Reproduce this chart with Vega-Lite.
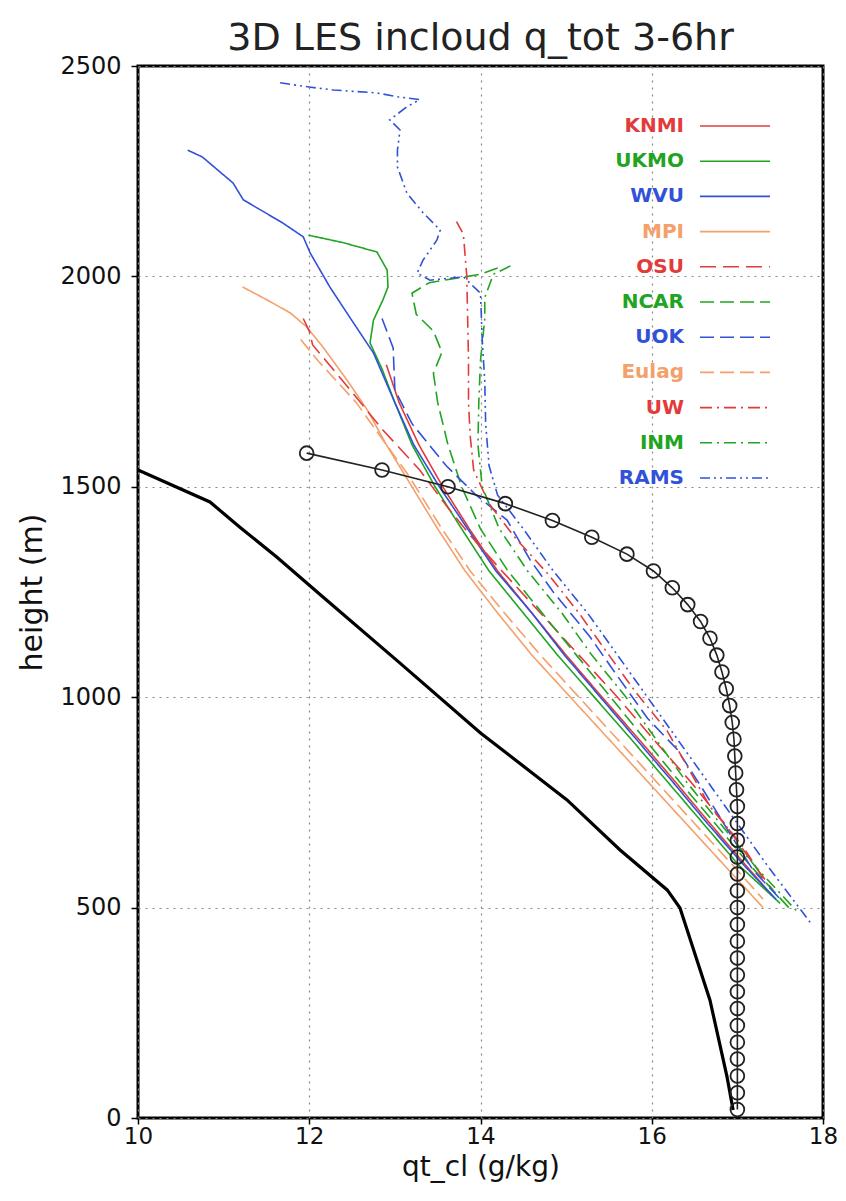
{
  "$schema": "https://vega.github.io/schema/vega-lite/v6.json",
  "width": 685,
  "height": 1052,
  "autosize": {"type": "none"},
  "padding": {"left": 138, "top": 66, "right": 23, "bottom": 83},
  "background": "white",
  "title": {"text": "3D LES incloud q_tot 3-6hr", "fontSize": 38, "font": "DejaVu Sans", "fontWeight": "normal", "color": "#222", "offset": -4, "anchor": "middle"},
  "config": {
    "view": {"stroke": "black", "strokeWidth": 3},
    "axis": {"domain": false, "tickColor": "black", "tickSize": 7, "tickWidth": 1.5, "labelColor": "#111", "labelFont": "DejaVu Sans", "labelFontSize": 24, "titleFont": "DejaVu Sans", "titleFontSize": 30, "titleFontWeight": "normal", "titleColor": "#111", "grid": true, "gridColor": "#888", "gridDash": [2, 5], "gridWidth": 1.2}
  },
  "datasets": {
    "models": [
      {"m": "KNMI", "q": 12.9, "h": 1790}, {"m": "KNMI", "q": 13.05, "h": 1700}, {"m": "KNMI", "q": 13.28, "h": 1600}, {"m": "KNMI", "q": 13.56, "h": 1500}, {"m": "KNMI", "q": 13.87, "h": 1400}, {"m": "KNMI", "q": 14.2, "h": 1300}, {"m": "KNMI", "q": 14.6, "h": 1200}, {"m": "KNMI", "q": 15.0, "h": 1100}, {"m": "KNMI", "q": 15.42, "h": 1000}, {"m": "KNMI", "q": 15.85, "h": 900}, {"m": "KNMI", "q": 16.27, "h": 800}, {"m": "KNMI", "q": 16.68, "h": 700}, {"m": "KNMI", "q": 17.1, "h": 600}, {"m": "KNMI", "q": 17.4, "h": 530},

      {"m": "UKMO", "q": 11.99, "h": 2098}, {"m": "UKMO", "q": 12.4, "h": 2080}, {"m": "UKMO", "q": 12.79, "h": 2058}, {"m": "UKMO", "q": 12.91, "h": 2015}, {"m": "UKMO", "q": 12.92, "h": 1975}, {"m": "UKMO", "q": 12.86, "h": 1944}, {"m": "UKMO", "q": 12.75, "h": 1896}, {"m": "UKMO", "q": 12.71, "h": 1842}, {"m": "UKMO", "q": 12.85, "h": 1780}, {"m": "UKMO", "q": 13.0, "h": 1700}, {"m": "UKMO", "q": 13.2, "h": 1600}, {"m": "UKMO", "q": 13.47, "h": 1500}, {"m": "UKMO", "q": 13.78, "h": 1400}, {"m": "UKMO", "q": 14.1, "h": 1300}, {"m": "UKMO", "q": 14.5, "h": 1200}, {"m": "UKMO", "q": 14.9, "h": 1100}, {"m": "UKMO", "q": 15.33, "h": 1000}, {"m": "UKMO", "q": 15.76, "h": 900}, {"m": "UKMO", "q": 16.18, "h": 800}, {"m": "UKMO", "q": 16.6, "h": 700}, {"m": "UKMO", "q": 17.02, "h": 600}, {"m": "UKMO", "q": 17.5, "h": 510},

      {"m": "WVU", "q": 10.58, "h": 2300}, {"m": "WVU", "q": 10.75, "h": 2284}, {"m": "WVU", "q": 11.11, "h": 2222}, {"m": "WVU", "q": 11.23, "h": 2182}, {"m": "WVU", "q": 11.69, "h": 2127}, {"m": "WVU", "q": 11.93, "h": 2094}, {"m": "WVU", "q": 12.01, "h": 2056}, {"m": "WVU", "q": 12.24, "h": 1975}, {"m": "WVU", "q": 12.44, "h": 1913}, {"m": "WVU", "q": 12.75, "h": 1818}, {"m": "WVU", "q": 13.0, "h": 1700}, {"m": "WVU", "q": 13.22, "h": 1600}, {"m": "WVU", "q": 13.52, "h": 1500}, {"m": "WVU", "q": 13.85, "h": 1400}, {"m": "WVU", "q": 14.18, "h": 1300}, {"m": "WVU", "q": 14.6, "h": 1200}, {"m": "WVU", "q": 14.98, "h": 1100}, {"m": "WVU", "q": 15.4, "h": 1000}, {"m": "WVU", "q": 15.82, "h": 900}, {"m": "WVU", "q": 16.24, "h": 800}, {"m": "WVU", "q": 16.65, "h": 700}, {"m": "WVU", "q": 17.08, "h": 600}, {"m": "WVU", "q": 17.45, "h": 520},

      {"m": "MPI", "q": 11.22, "h": 1975}, {"m": "MPI", "q": 11.5, "h": 1945}, {"m": "MPI", "q": 11.78, "h": 1913}, {"m": "MPI", "q": 11.97, "h": 1880}, {"m": "MPI", "q": 12.16, "h": 1832}, {"m": "MPI", "q": 12.44, "h": 1754}, {"m": "MPI", "q": 12.68, "h": 1682}, {"m": "MPI", "q": 12.9, "h": 1600}, {"m": "MPI", "q": 13.2, "h": 1500}, {"m": "MPI", "q": 13.5, "h": 1400}, {"m": "MPI", "q": 13.82, "h": 1300}, {"m": "MPI", "q": 14.2, "h": 1200}, {"m": "MPI", "q": 14.6, "h": 1100}, {"m": "MPI", "q": 15.05, "h": 1000}, {"m": "MPI", "q": 15.5, "h": 900}, {"m": "MPI", "q": 15.95, "h": 800}, {"m": "MPI", "q": 16.4, "h": 700}, {"m": "MPI", "q": 16.85, "h": 600}, {"m": "MPI", "q": 17.3, "h": 500},

      {"m": "OSU", "q": 11.93, "h": 1900}, {"m": "OSU", "q": 12.0, "h": 1870}, {"m": "OSU", "q": 12.04, "h": 1837}, {"m": "OSU", "q": 12.48, "h": 1730}, {"m": "OSU", "q": 12.86, "h": 1635}, {"m": "OSU", "q": 13.29, "h": 1540}, {"m": "OSU", "q": 13.62, "h": 1450}, {"m": "OSU", "q": 13.9, "h": 1380}, {"m": "OSU", "q": 14.25, "h": 1300}, {"m": "OSU", "q": 14.7, "h": 1200}, {"m": "OSU", "q": 15.15, "h": 1100}, {"m": "OSU", "q": 15.6, "h": 1000}, {"m": "OSU", "q": 16.02, "h": 900}, {"m": "OSU", "q": 16.45, "h": 800}, {"m": "OSU", "q": 16.85, "h": 700}, {"m": "OSU", "q": 17.2, "h": 600}, {"m": "OSU", "q": 17.42, "h": 540},

      {"m": "NCAR", "q": 14.2, "h": 2020}, {"m": "NCAR", "q": 14.0, "h": 2005}, {"m": "NCAR", "q": 13.7, "h": 1995}, {"m": "NCAR", "q": 13.4, "h": 1985}, {"m": "NCAR", "q": 13.2, "h": 1960}, {"m": "NCAR", "q": 13.25, "h": 1910}, {"m": "NCAR", "q": 13.45, "h": 1870}, {"m": "NCAR", "q": 13.55, "h": 1820}, {"m": "NCAR", "q": 13.45, "h": 1770}, {"m": "NCAR", "q": 13.5, "h": 1700}, {"m": "NCAR", "q": 13.62, "h": 1600}, {"m": "NCAR", "q": 13.78, "h": 1500}, {"m": "NCAR", "q": 14.0, "h": 1400}, {"m": "NCAR", "q": 14.32, "h": 1300}, {"m": "NCAR", "q": 14.72, "h": 1200}, {"m": "NCAR", "q": 15.12, "h": 1100}, {"m": "NCAR", "q": 15.52, "h": 1000}, {"m": "NCAR", "q": 15.92, "h": 900}, {"m": "NCAR", "q": 16.32, "h": 800}, {"m": "NCAR", "q": 16.74, "h": 700}, {"m": "NCAR", "q": 17.15, "h": 600}, {"m": "NCAR", "q": 17.6, "h": 500},

      {"m": "UOK", "q": 12.85, "h": 1900}, {"m": "UOK", "q": 12.98, "h": 1830}, {"m": "UOK", "q": 13.0, "h": 1730}, {"m": "UOK", "q": 13.2, "h": 1650}, {"m": "UOK", "q": 13.6, "h": 1550}, {"m": "UOK", "q": 13.95, "h": 1480}, {"m": "UOK", "q": 14.31, "h": 1421}, {"m": "UOK", "q": 14.58, "h": 1326}, {"m": "UOK", "q": 14.85, "h": 1250}, {"m": "UOK", "q": 15.28, "h": 1143}, {"m": "UOK", "q": 15.6, "h": 1050}, {"m": "UOK", "q": 15.95, "h": 950}, {"m": "UOK", "q": 16.3, "h": 875}, {"m": "UOK", "q": 16.6, "h": 780}, {"m": "UOK", "q": 16.9, "h": 680}, {"m": "UOK", "q": 17.18, "h": 590}, {"m": "UOK", "q": 17.5, "h": 520},

      {"m": "Eulag", "q": 11.9, "h": 1850}, {"m": "Eulag", "q": 12.1, "h": 1800}, {"m": "Eulag", "q": 12.55, "h": 1700}, {"m": "Eulag", "q": 12.9, "h": 1600}, {"m": "Eulag", "q": 13.15, "h": 1530}, {"m": "Eulag", "q": 13.55, "h": 1400}, {"m": "Eulag", "q": 13.88, "h": 1300}, {"m": "Eulag", "q": 14.28, "h": 1200}, {"m": "Eulag", "q": 14.7, "h": 1100}, {"m": "Eulag", "q": 15.15, "h": 1000}, {"m": "Eulag", "q": 15.6, "h": 900}, {"m": "Eulag", "q": 16.05, "h": 800}, {"m": "Eulag", "q": 16.5, "h": 700}, {"m": "Eulag", "q": 16.95, "h": 600}, {"m": "Eulag", "q": 17.3, "h": 520},

      {"m": "UW", "q": 13.72, "h": 2130}, {"m": "UW", "q": 13.8, "h": 2100}, {"m": "UW", "q": 13.84, "h": 2000}, {"m": "UW", "q": 13.85, "h": 1900}, {"m": "UW", "q": 13.86, "h": 1800}, {"m": "UW", "q": 13.86, "h": 1700}, {"m": "UW", "q": 13.88, "h": 1620}, {"m": "UW", "q": 13.92, "h": 1540}, {"m": "UW", "q": 14.1, "h": 1460}, {"m": "UW", "q": 14.4, "h": 1380}, {"m": "UW", "q": 14.8, "h": 1290}, {"m": "UW", "q": 15.15, "h": 1200}, {"m": "UW", "q": 15.5, "h": 1100}, {"m": "UW", "q": 15.82, "h": 1010}, {"m": "UW", "q": 16.18, "h": 920}, {"m": "UW", "q": 16.68, "h": 740}, {"m": "UW", "q": 17.07, "h": 644}, {"m": "UW", "q": 17.3, "h": 570},

      {"m": "INM", "q": 14.35, "h": 2025}, {"m": "INM", "q": 14.15, "h": 2005}, {"m": "INM", "q": 14.05, "h": 1950}, {"m": "INM", "q": 14.05, "h": 1900}, {"m": "INM", "q": 14.0, "h": 1800}, {"m": "INM", "q": 13.98, "h": 1700}, {"m": "INM", "q": 13.97, "h": 1600}, {"m": "INM", "q": 14.02, "h": 1500}, {"m": "INM", "q": 14.22, "h": 1400}, {"m": "INM", "q": 14.55, "h": 1300}, {"m": "INM", "q": 14.95, "h": 1200}, {"m": "INM", "q": 15.3, "h": 1100}, {"m": "INM", "q": 15.7, "h": 1000}, {"m": "INM", "q": 16.05, "h": 900}, {"m": "INM", "q": 16.4, "h": 800}, {"m": "INM", "q": 16.8, "h": 700}, {"m": "INM", "q": 17.2, "h": 600}, {"m": "INM", "q": 17.7, "h": 490},

      {"m": "RAMS", "q": 11.66, "h": 2460}, {"m": "RAMS", "q": 12.0, "h": 2450}, {"m": "RAMS", "q": 12.28, "h": 2443}, {"m": "RAMS", "q": 12.79, "h": 2436}, {"m": "RAMS", "q": 13.03, "h": 2427}, {"m": "RAMS", "q": 13.29, "h": 2420}, {"m": "RAMS", "q": 13.14, "h": 2403}, {"m": "RAMS", "q": 12.94, "h": 2372}, {"m": "RAMS", "q": 13.06, "h": 2348}, {"m": "RAMS", "q": 13.03, "h": 2300}, {"m": "RAMS", "q": 13.03, "h": 2260}, {"m": "RAMS", "q": 13.14, "h": 2198}, {"m": "RAMS", "q": 13.33, "h": 2151}, {"m": "RAMS", "q": 13.53, "h": 2110}, {"m": "RAMS", "q": 13.49, "h": 2086}, {"m": "RAMS", "q": 13.33, "h": 2039}, {"m": "RAMS", "q": 13.26, "h": 2008}, {"m": "RAMS", "q": 13.41, "h": 1991}, {"m": "RAMS", "q": 13.8, "h": 1999}, {"m": "RAMS", "q": 14.0, "h": 1960}, {"m": "RAMS", "q": 14.02, "h": 1850}, {"m": "RAMS", "q": 14.05, "h": 1750}, {"m": "RAMS", "q": 14.06, "h": 1650}, {"m": "RAMS", "q": 14.1, "h": 1550}, {"m": "RAMS", "q": 14.2, "h": 1480}, {"m": "RAMS", "q": 14.5, "h": 1400}, {"m": "RAMS", "q": 14.85, "h": 1300}, {"m": "RAMS", "q": 15.25, "h": 1200}, {"m": "RAMS", "q": 15.6, "h": 1100}, {"m": "RAMS", "q": 15.95, "h": 1000}, {"m": "RAMS", "q": 16.3, "h": 900}, {"m": "RAMS", "q": 16.65, "h": 800}, {"m": "RAMS", "q": 17.0, "h": 700}, {"m": "RAMS", "q": 17.35, "h": 600}, {"m": "RAMS", "q": 17.85, "h": 465}
    ],
    "initial": [
      {"q": 10.0, "h": 1540}, {"q": 10.84, "h": 1464}, {"q": 11.19, "h": 1404}, {"q": 11.62, "h": 1333}, {"q": 12.16, "h": 1238}, {"q": 13.06, "h": 1081}, {"q": 14.0, "h": 915}, {"q": 15.01, "h": 756}, {"q": 15.63, "h": 637}, {"q": 16.18, "h": 542}, {"q": 16.33, "h": 499}, {"q": 16.68, "h": 280}, {"q": 16.88, "h": 97}, {"q": 16.95, "h": 19}
    ],
    "obs": [
      {"q": 11.97, "h": 1580}, {"q": 12.85, "h": 1540}, {"q": 13.62, "h": 1500}, {"q": 14.29, "h": 1460}, {"q": 14.84, "h": 1420}, {"q": 15.3, "h": 1380}, {"q": 15.71, "h": 1340}, {"q": 16.02, "h": 1300}, {"q": 16.24, "h": 1260}, {"q": 16.42, "h": 1220}, {"q": 16.57, "h": 1180}, {"q": 16.68, "h": 1140}, {"q": 16.76, "h": 1100}, {"q": 16.82, "h": 1060}, {"q": 16.87, "h": 1020}, {"q": 16.91, "h": 980}, {"q": 16.94, "h": 940}, {"q": 16.96, "h": 900}, {"q": 16.97, "h": 860}, {"q": 16.98, "h": 820}, {"q": 16.99, "h": 780}, {"q": 17.0, "h": 740}, {"q": 17.0, "h": 700}, {"q": 17.0, "h": 660}, {"q": 17.0, "h": 620}, {"q": 17.0, "h": 580}, {"q": 17.0, "h": 540}, {"q": 17.0, "h": 500}, {"q": 17.0, "h": 460}, {"q": 17.0, "h": 420}, {"q": 17.0, "h": 380}, {"q": 17.0, "h": 340}, {"q": 17.0, "h": 300}, {"q": 17.0, "h": 260}, {"q": 17.0, "h": 220}, {"q": 17.0, "h": 180}, {"q": 17.0, "h": 140}, {"q": 17.0, "h": 100}, {"q": 17.0, "h": 60}, {"q": 17.0, "h": 20}
    ]
  },
  "encoding": {
    "x": {"field": "q", "type": "quantitative", "scale": {"domain": [10, 18], "nice": false, "zero": false},
      "axis": {"title": "qt_cl (g/kg)", "values": [10, 12, 14, 16, 18], "format": "d", "tickSize": 6, "labelFlush": false, "labelPadding": 1, "labelFontSize": 23, "titleFontSize": 28, "titlePadding": 5}},
    "y": {"field": "h", "type": "quantitative", "scale": {"domain": [0, 2500], "nice": false},
      "axis": {"title": "height (m)", "values": [0, 500, 1000, 1500, 2000, 2500], "format": "d", "labelPadding": 10, "titlePadding": 12}}
  },
  "layer": [
    {
      "data": {"name": "models"},
      "mark": {"type": "line", "strokeWidth": 1.6, "clip": true},
      "encoding": {
        "order": {"value": null},
        "color": {"field": "m", "type": "nominal",
          "scale": {"domain": ["KNMI", "UKMO", "WVU", "MPI", "OSU", "NCAR", "UOK", "Eulag", "UW", "INM", "RAMS"],
            "range": ["#e23b3b", "#21a421", "#3152d8", "#f4a06a", "#e23b3b", "#21a421", "#3152d8", "#f4a06a", "#e23b3b", "#21a421", "#3152d8"]},
          "legend": {"title": null, "orient": "none", "legendX": 586, "legendY": 49, "symbolType": "M-3.5,0H3.5", "symbolSize": 400, "symbolStrokeWidth": 1.6,
            "labelAlign": "right", "labelOffset": -62, "labelFontSize": 20, "labelFont": "DejaVu Sans", "labelFontWeight": "bold", "rowPadding": 14.2,
            "encode": {"labels": {"update": {"fill": {"scale": "color", "field": "value"}}}}}},
        "strokeDash": {"field": "m", "type": "nominal",
          "scale": {"domain": ["KNMI", "UKMO", "WVU", "MPI", "OSU", "NCAR", "UOK", "Eulag", "UW", "INM", "RAMS"],
            "range": [[1, 0], [1, 0], [1, 0], [1, 0], [16, 7], [14, 6], [14, 6], [14, 6], [12, 5, 2, 5], [12, 5, 2, 5], [10, 4, 2, 4, 2, 4]]}}
      }
    },
    {
      "data": {"name": "initial"},
      "mark": {"type": "line", "strokeWidth": 3.2, "color": "black", "clip": true},
      "encoding": {"order": {"value": null}}
    },
    {
      "data": {"name": "obs"},
      "mark": {"type": "line", "strokeWidth": 1.6, "color": "#222", "clip": true},
      "encoding": {"order": {"value": null}}
    },
    {
      "data": {"name": "obs"},
      "mark": {"type": "point", "shape": "circle", "size": 190, "filled": false, "stroke": "#222", "strokeWidth": 1.8, "opacity": 1}
    }
  ]
}
